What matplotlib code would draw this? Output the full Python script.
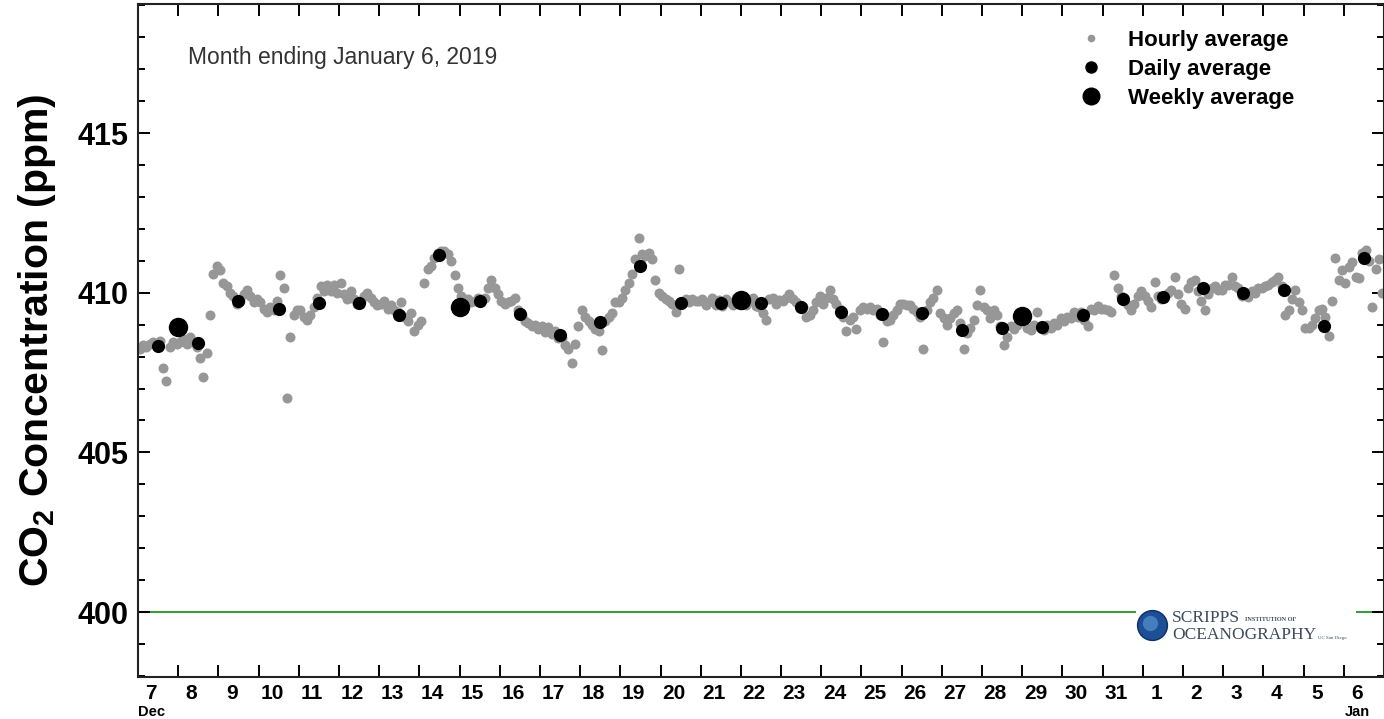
import numpy as np
import matplotlib
matplotlib.use('Agg')
import matplotlib.pyplot as plt
import matplotlib.transforms as mtransforms
from matplotlib.lines import Line2D

plt.rcParams['font.family'] = ['Liberation Sans', 'DejaVu Sans']
plt.rcParams['mathtext.fontset'] = 'custom'
plt.rcParams['mathtext.rm'] = 'Liberation Sans:bold'
plt.rcParams['mathtext.default'] = 'rm'

# x axis: days since Dec 7, 2018 00:00
day_labels = ['7', '8', '9', '10', '11', '12', '13', '14', '15', '16', '17', '18',
              '19', '20', '21', '22', '23', '24', '25', '26', '27', '28', '29', '30',
              '31', '1', '2', '3', '4', '5', '6']

# 2-hourly readings of the hourly band, one row per day (Dec 7 .. Jan 6)
hourly_ppm = [
    408.25, 408.35, 408.30, 408.40, 408.45, 408.35, 408.50, 407.65, 407.25, 408.30, 408.45, 408.40,  # Dec 7
    408.45, 408.55, 408.40, 408.60, 408.45, 408.30, 407.95, 407.35, 408.10, 409.30, 410.60, 410.85,  # Dec 8
    410.70, 410.30, 410.20, 410.00, 409.90, 409.65, 409.75, 409.95, 410.10, 409.90, 409.70, 409.80,  # Dec 9
    409.70, 409.50, 409.40, 409.55, 409.45, 409.75, 410.55, 410.15, 406.70, 408.60, 409.30, 409.45,  # Dec 10
    409.45, 409.25, 409.15, 409.30, 409.55, 409.85, 410.20, 410.05, 410.25, 410.05, 410.25, 410.00,  # Dec 11
    410.30, 409.95, 409.80, 410.05, 409.80, 409.65, 409.75, 409.90, 410.00, 409.85, 409.70, 409.60,  # Dec 12
    409.65, 409.75, 409.50, 409.60, 409.45, 409.40, 409.70, 409.25, 409.10, 409.35, 408.80, 409.00,  # Dec 13
    409.10, 410.30, 410.75, 410.85, 411.10, 411.25, 411.30, 411.30, 411.20, 411.00, 410.55, 410.15,  # Dec 14
    409.90, 409.80, 409.80, 409.70, 409.75, 409.85, 409.75, 409.85, 410.15, 410.40, 410.15, 409.95,  # Dec 15
    409.75, 409.65, 409.70, 409.75, 409.85, 409.45, 409.30, 409.10, 409.05, 408.95, 409.00, 408.85,  # Dec 16
    408.95, 408.78, 408.92, 408.72, 408.80, 408.58, 408.58, 408.35, 408.25, 407.80, 408.40, 408.95,  # Dec 17
    409.45, 409.25, 409.10, 409.00, 408.85, 408.80, 408.20, 409.10, 409.25, 409.35, 409.70, 409.70,  # Dec 18
    409.85, 410.10, 410.30, 410.60, 411.05, 411.70, 411.20, 411.15, 411.25, 411.05, 410.40, 410.00,  # Dec 19
    409.90, 409.80, 409.75, 409.65, 409.40, 410.75, 409.70, 409.80, 409.70, 409.80, 409.75, 409.75,  # Dec 20
    409.80, 409.62, 409.72, 409.85, 409.62, 409.76, 409.58, 409.80, 409.70, 409.60, 409.82, 409.68,  # Dec 21
    409.78, 409.62, 409.75, 409.82, 409.58, 409.55, 409.35, 409.15, 409.80, 409.85, 409.65, 409.78,  # Dec 22
    409.75, 409.85, 409.95, 409.80, 409.70, 409.60, 409.55, 409.25, 409.30, 409.45, 409.70, 409.90,  # Dec 23
    409.65, 409.85, 410.08, 409.80, 409.65, 409.50, 409.25, 408.80, 409.15, 409.25, 408.85, 409.45,  # Dec 24
    409.55, 409.50, 409.55, 409.45, 409.50, 409.30, 408.45, 409.10, 409.15, 409.30, 409.45, 409.65,  # Dec 25
    409.65, 409.60, 409.62, 409.50, 409.40, 409.25, 408.25, 409.45, 409.70, 409.85, 410.08, 409.35,  # Dec 26
    409.20, 409.00, 409.20, 409.35, 409.45, 409.05, 408.25, 408.75, 408.90, 409.15, 409.60, 410.10,  # Dec 27
    409.55, 409.45, 409.20, 409.45, 409.30, 408.95, 408.35, 408.60, 408.95, 408.85, 409.00, 409.10,  # Dec 28
    409.10, 408.90, 408.82, 409.00, 409.40, 408.92, 408.82, 409.00, 408.90, 409.05, 409.00, 409.20,  # Dec 29
    409.10, 409.25, 409.20, 409.40, 409.25, 409.40, 409.15, 408.95, 409.50, 409.45, 409.58, 409.50,  # Dec 30
    409.50, 409.45, 409.40, 410.55, 410.15, 409.90, 409.75, 409.60, 409.45, 409.65, 409.90, 410.05,  # Dec 31
    409.90, 409.75, 409.55, 410.35, 409.90, 409.80, 409.90, 410.00, 410.08, 410.50, 409.95, 409.65,  # Jan 1
    409.50, 410.15, 410.35, 410.40, 410.05, 409.75, 409.45, 409.95, 410.15, 410.20, 410.10, 410.10,  # Jan 2
    410.25, 410.25, 410.50, 410.20, 410.15, 409.90, 409.95, 409.88, 410.05, 410.00, 410.15, 410.15,  # Jan 3
    410.20, 410.25, 410.35, 410.40, 410.50, 410.20, 409.30, 409.45, 409.80, 410.08, 409.70, 409.45,  # Jan 4
    408.90, 408.88, 409.00, 409.20, 409.45, 409.50, 409.25, 408.65, 409.75, 411.10, 410.40, 410.70,  # Jan 5
    410.30, 410.80, 410.95, 410.50, 410.45, 411.25, 411.35, 411.00, 409.55, 410.75, 411.05, 410.00,  # Jan 6
]

daily_ppm = [408.34, 408.42, 409.74, 409.49, 409.69, 409.69, 409.31, 411.18,
             409.75, 409.32, 408.68, 409.07, 410.84, 409.67, 409.67, 409.69,
             409.56, 409.39, 409.34, 409.35, 408.83, 408.88, 408.94, 409.30,
             409.80, 409.86, 410.14, 410.00, 410.08, 408.96, 411.10]

# weekly averages, plotted at the week boundary (Dec 8, 15, 22, 29)
weekly_dec_day = [8, 15, 22, 29]
weekly_ppm = [408.93, 409.56, 409.77, 409.27]

t_hour = (np.arange(len(hourly_ppm)) + 0.5) / 12
t_day = np.arange(len(daily_ppm)) + 0.5
t_week = np.array(weekly_dec_day) - 7

gray = '#979797'

fig = plt.figure(figsize=(13.84, 7.19), dpi=100)
ax = fig.add_axes([138 / 1384, 42.4 / 719, 1246 / 1384, 672.6 / 719])

ax.plot(t_hour, hourly_ppm, 'o', color=gray, ms=7.2, mec='none', zorder=2)
ax.plot(t_day, daily_ppm, 'o', color='black', ms=9.5, mec='none', zorder=3)
ax.plot(t_week, weekly_ppm, 'o', color='black', ms=14, mec='none', zorder=4)

# 400 ppm reference line, broken for the logo
ax.axhline(400, xmin=0, xmax=0.800, color='#3f9a3f', lw=1.5, zorder=1)
ax.axhline(400, xmin=0.978, xmax=1, color='#3f9a3f', lw=1.5, zorder=1)

ax.set_xlim(0, 31)
ax.set_ylim(397.98, 419.04)

ax.set_xticks(np.arange(1, 31), [''] * 30)
ax.set_xticks(np.arange(31) + 0.33, day_labels, minor=True)
ax.tick_params(axis='x', which='major', direction='in', length=8.6, width=1.4,
               top=True, bottom=True)
ax.tick_params(axis='x', which='minor', length=0, pad=5, labelsize=15)

ax.set_yticks([400, 405, 410, 415])
ax.set_yticks(np.arange(398, 420), minor=True)
ax.tick_params(axis='y', which='major', direction='in', length=8.6, width=1.4,
               left=True, right=True, labelsize=22, pad=7)
ax.tick_params(axis='y', which='minor', direction='in', length=5, width=1.4,
               left=True, right=True)

for lbl in ax.get_xticklabels(minor=True) + ax.get_yticklabels():
    lbl.set_fontweight('bold')

for sp in ax.spines.values():
    sp.set_linewidth(1.5)
    sp.set_color('#222222')

# month names under the first and last day
trans = mtransforms.blended_transform_factory(ax.transData, ax.transAxes)
ax.text(0.33, -0.053, 'Dec', transform=trans, ha='center', va='center',
        fontsize=10.5, fontweight='bold')
ax.text(30.33, -0.053, 'Jan', transform=trans, ha='center', va='center',
        fontsize=10.5, fontweight='bold')

ax.set_ylabel(r'CO$_2$ Concentration (ppm)', fontsize=29.5, fontweight='bold')
ax.yaxis.set_label_coords(-0.064, 0.5)

ax.text(0.040, 0.921, 'Month ending January 6, 2019', transform=ax.transAxes,
        ha='left', va='center', fontsize=16.5, color='#333333')

handles = [
    Line2D([], [], ls='none', marker='o', color=gray, ms=5.5, mec='none'),
    Line2D([], [], ls='none', marker='o', color='black', ms=9, mec='none'),
    Line2D([], [], ls='none', marker='o', color='black', ms=13, mec='none'),
]
ax.legend(handles, ['Hourly average', 'Daily average', 'Weekly average'],
          loc='upper left', bbox_to_anchor=(0.7557, 0.9615), frameon=False,
          prop={'weight': 'bold', 'size': 16}, handlelength=1,
          handletextpad=1.2, labelspacing=0.36, borderpad=0, borderaxespad=0)

# Scripps logo
ax.plot([0.8138], [0.0767], 'o', ms=21.5, color='#1d4f95', mec='#0d2f66',
        mew=1, transform=ax.transAxes, zorder=5)
ax.plot([0.8125], [0.0800], 'o', ms=11, color='#4f8ac8', mec='none',
        alpha=0.8, transform=ax.transAxes, zorder=6)
logo_color = '#3d4b5c'
ax.text(0.8299, 0.0871, 'SCRIPPS', transform=ax.transAxes, ha='left',
        va='center', fontsize=12.5, family='Liberation Serif', color=logo_color)
ax.text(0.8884, 0.0842, 'INSTITUTION OF', transform=ax.transAxes, ha='left',
        va='center', fontsize=4.5, fontweight='bold', family='Liberation Serif',
        color=logo_color)
ax.text(0.8299, 0.0618, 'OCEANOGRAPHY', transform=ax.transAxes, ha='left',
        va='center', fontsize=12.5, family='Liberation Serif', color=logo_color)
ax.text(0.947, 0.0574, 'UC San Diego', transform=ax.transAxes, ha='left',
        va='center', fontsize=3.5, family='Liberation Serif', color=logo_color)

fig.savefig('out.png', dpi=100)
